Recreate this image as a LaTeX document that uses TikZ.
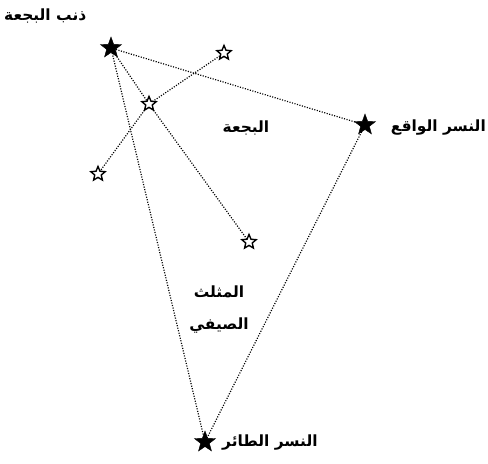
\documentclass[tikz,border=0pt]{standalone}
\usepackage{fontspec}
\usetikzlibrary{shapes.geometric}
\TeXXeTstate=1
\newfontfamily\arabicfont[Script=Arabic]{DejaVu Sans}
\begin{document}
\begin{tikzpicture}[x=1bp,y=-1bp,
  link/.style={line width=1.2pt,dash pattern=on 1.1pt off 1.5pt,black},
  bigstar/.style={star,star points=5,star point ratio=2.4,minimum size=22bp,inner sep=0pt,fill=black,draw=black},
  smallstar/.style={star,star points=5,star point ratio=2.2,minimum size=15bp,inner sep=0pt,fill=white,draw=black,line width=1.4pt},
  lbl/.style={font=\arabicfont\bfseries\fontsize{15.5}{18}\selectfont,inner sep=0pt}]
\useasboundingbox (0,0) rectangle (488,464);
\coordinate (deneb) at (111,48);
\coordinate (vega) at (365,125);
\coordinate (altair) at (205,442);
\coordinate (tr) at (224,53);
\coordinate (sadr) at (149,104);
\coordinate (lft) at (98,174);
\coordinate (alb) at (249,242);
\draw[link] (deneb) -- (vega);
\draw[link] (deneb) -- (altair);
\draw[link] (vega) -- (altair);
\draw[link] (tr) -- (sadr);
\draw[link] (sadr) -- (lft);
\draw[link] (deneb) -- (sadr);
\draw[link] (sadr) -- (alb);
\node[bigstar] (sdeneb) at (deneb) {};
\node[bigstar] (svega) at (vega) {};
\node[bigstar] (saltair) at (altair) {};
\node[smallstar] (str) at (tr) {};
\node[smallstar] (ssadr) at (sadr) {};
\node[smallstar] (slft) at (lft) {};
\node[smallstar] (salb) at (alb) {};
\node[lbl,anchor=west] (l1) at (4,16) {\beginR ذنب البجعة\endR};
\node[lbl,anchor=east] (l2) at (486,128) {\beginR النسر الواقع\endR};
\node[lbl] (l3) at (246,128) {\beginR البجعة\endR};
\node[lbl] (l4) at (219,292) {\beginR المثلث\endR};
\node[lbl] (l5) at (219,326) {\beginR الصيفي\endR};
\node[lbl,anchor=west] (l6) at (222,443) {\beginR النسر الطائر\endR};
\end{tikzpicture}
\end{document}
